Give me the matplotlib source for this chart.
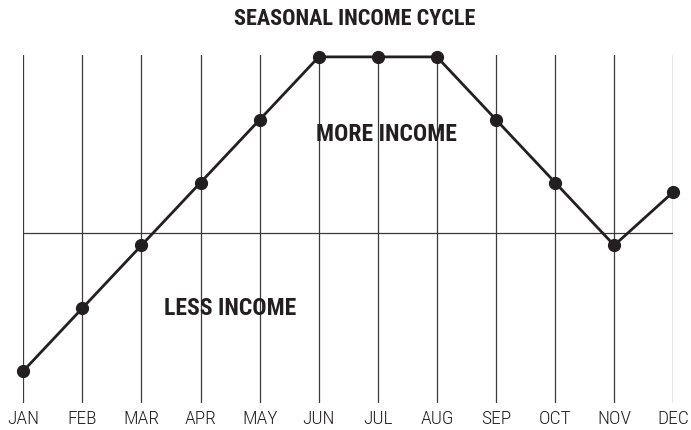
import matplotlib
matplotlib.use("Agg")
import matplotlib.pyplot as plt

months = ["JAN", "FEB", "MAR", "APR", "MAY", "JUN", "JUL", "AUG", "SEP", "OCT", "NOV", "DEC"]
income = [-2.2, -1.2, -0.2, 0.8, 1.8, 2.8, 2.8, 2.8, 1.8, 0.8, -0.2, 0.65]
baseline = 0.0
title = "SEASONAL INCOME CYCLE"
label_more = "MORE INCOME"
label_less = "LESS INCOME"

ink = "#231f20"
fam = ["Roboto Condensed", "Roboto", "DejaVu Sans"]

fig = plt.figure(figsize=(6.91, 4.30), dpi=100)
ax = fig.add_axes([23.3 / 691, 1 - 403 / 430, 650 / 691, 348 / 430])
x = list(range(len(months)))

for xi in x:
    ax.axvline(xi, color="#3a3a3a", lw=0.9, zorder=1)
ax.axhline(baseline, color="#3a3a3a", lw=0.9, zorder=1)

ax.plot(x, income, color=ink, lw=2.0, marker="o", ms=8.5, clip_on=False, zorder=3)

ax.set_xlim(0, len(months) - 1)
ax.set_ylim(-2.71, 2.83)
ax.set_yticks([])
ax.set_xticks(x)
ax.set_xticklabels(months, fontsize=14, fontweight="light", family=fam, color=ink)
ax.tick_params(axis="x", length=0, pad=5)
for s in ax.spines.values():
    s.set_visible(False)

ax.text(6.14, 1.57, label_more, ha="center", va="center", fontsize=17,
        fontweight="bold", family=fam, color=ink, zorder=4)
ax.text(3.50, -1.2, label_less, ha="center", va="center", fontsize=17,
        fontweight="bold", family=fam, color=ink, zorder=4)

fig.text(355 / 691, 1 - 19 / 430, title, ha="center", va="center",
         fontsize=16, fontweight="bold", family=fam, color=ink)

fig.savefig("out.png", dpi=100, facecolor="white")
